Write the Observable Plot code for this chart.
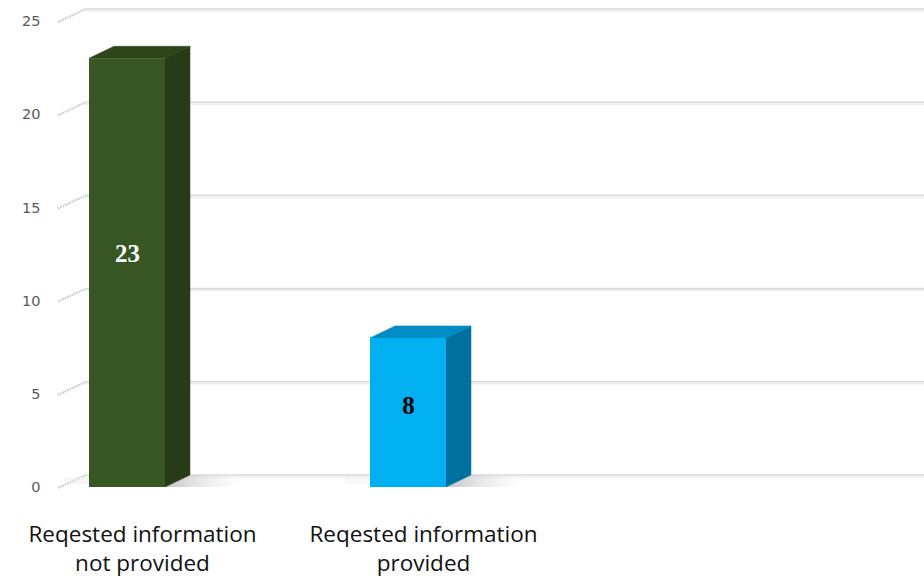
<!DOCTYPE html>
<html><head><meta charset="utf-8">
<script src="https://cdn.jsdelivr.net/npm/d3@7"></script>
<script src="https://cdn.jsdelivr.net/npm/@observablehq/plot@0.6"></script>
<style>body{margin:0;background:#fff} svg{display:block;overflow:visible}</style>
</head><body><div id="chart"></div>
<script>
const categories = ["Reqested information\nnot provided", "Reqested information\nprovided"];
const values = [23, 8];
const yTicks = [0, 5, 10, 15, 20, 25];
const frontColors = ["#375623", "#00b0f0"];
const sideColors = ["#263c17", "#00719f"];
const topColors = ["#2c4519", "#008bc4"];
const labelColors = ["#ffffff", "#000000"];

const data = categories.map((c, i) => ({
  category: c, value: values[i], front: frontColors[i], side: sideColors[i],
  top: topColors[i], label: labelColors[i]
}));

const DX = 25, DY = -12;

function backdrop(index, scales, vals, dims) {
  const {y} = scales;
  const g = d3.create("svg:g");
  const x0 = dims.marginLeft;
  for (const t of yTicks) {
    const py = y(t);
    g.append("line").attr("x1", x0).attr("y1", py + 1).attr("x2", x0 + 28).attr("y2", py + DY)
      .attr("stroke", "#c9c9c9").attr("stroke-width", 2.2).attr("stroke-dasharray", "1.5 1");
    g.append("line").attr("x1", x0 + 28).attr("y1", py + DY).attr("x2", dims.width).attr("y2", py + DY)
      .attr("stroke", "#d9d9d9").attr("stroke-width", 1.6);
    g.append("line").attr("x1", x0 + 28).attr("y1", py + DY + 2).attr("x2", dims.width).attr("y2", py + DY + 2)
      .attr("stroke", "#eeeeee").attr("stroke-width", 1.5);
  }
  return g.node();
}

function boxes(index, scales, vals, dims) {
  const {x, y} = scales;
  const g = d3.create("svg:g");
  const defs = g.append("defs");
  const grad = defs.append("linearGradient").attr("id", "shadowGrad");
  grad.append("stop").attr("offset", "0%").attr("stop-color", "#bdbdbd").attr("stop-opacity", 0.9);
  grad.append("stop").attr("offset", "100%").attr("stop-color", "#ffffff").attr("stop-opacity", 0);
  const w = x.bandwidth();
  for (const d of data) {
    const xa = x(d.category), xb = xa + w;
    const y0 = y(0), y1 = y(d.value);
    g.append("path")
      .attr("d", `M${xb},${y0} L${xb + DX},${y0 + DY} L${xb + DX + 70},${y0 + DY} L${xb + 60},${y0} Z`)
      .attr("fill", "url(#shadowGrad)");
    g.append("rect").attr("x", xa - 25).attr("y", y0 + DY + 2).attr("width", 25).attr("height", 7)
      .attr("fill", "#ececec").attr("opacity", 0.4);
    g.append("path")
      .attr("d", `M${xb},${y1} L${xb + DX},${y1 + DY} L${xb + DX},${y0 + DY} L${xb},${y0} Z`)
      .attr("fill", d.side).attr("stroke", d.side).attr("stroke-width", 0.5);
    g.append("path")
      .attr("d", `M${xa},${y1} L${xa + DX},${y1 + DY} L${xb + DX},${y1 + DY} L${xb},${y1} Z`)
      .attr("fill", d.top).attr("stroke", d.top).attr("stroke-width", 0.5);
  }
  return g.node();
}

const chart = Plot.plot({
  width: 924,
  height: 585,
  marginLeft: 58,
  marginRight: 0,
  marginTop: 0,
  marginBottom: 75,
  x: {domain: categories, range: [60, 474], paddingInner: 0.73, paddingOuter: 0.1},
  y: {domain: [0, 25], range: [487, 21]},
  marks: [
    backdrop,
    boxes,
    Plot.barY(data, {x: "category", y: "value", fill: "front"}),
    Plot.text(data, {
      x: "category", y: d => d.value * 0.545, text: d => String(d.value), fill: "label",
      fontFamily: "Liberation Serif", fontWeight: "bold", fontSize: 25
    }),
    Plot.axisY({
      ticks: yTicks, tickSize: 0, tickPadding: 18, label: null,
      fontSize: 14.5, fontFamily: "DejaVu Sans", fill: "#595959", letterSpacing: 2
    }),
    Plot.axisX({
      tickSize: 0, tickPadding: 12, label: null, dx: 15,
      fontSize: 22.5, fontFamily: "Open Sans", fill: "#111", lineHeight: 1.25
    })
  ]
});
document.getElementById("chart").append(chart);
</script>
</body></html>
